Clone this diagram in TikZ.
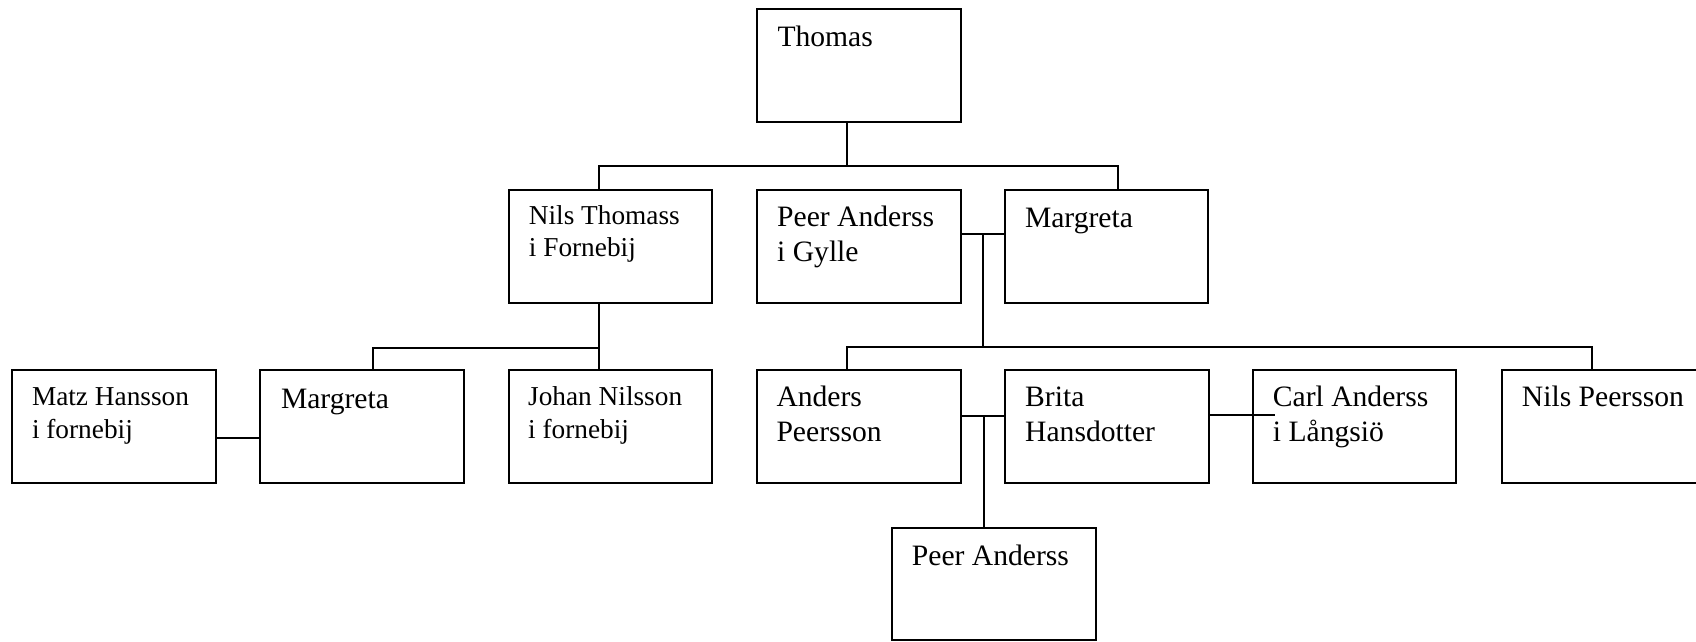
\documentclass[tikz,border=0pt]{standalone}
\usepackage{fontspec}
\setmainfont{Liberation Serif}
\usetikzlibrary{calc}
\tikzset{
  person/.style={draw, line width=2pt, rectangle, minimum width=203.5pt, minimum height=112.5pt, inner sep=0pt, outer sep=0pt, anchor=north west},
  big/.style={anchor=base west, inner sep=0pt, font=\fontsize{29.6}{35}\selectfont},
  small/.style={anchor=base west, inner sep=0pt, font=\fontsize{27.3}{32.4}\selectfont},
  link/.style={line width=2pt},
}
\newcommand\twoln[2]{\vtop{\hbox{#1}\hbox{#2}}}
\begin{document}
\begin{tikzpicture}[x=1pt,y=-1pt]
\useasboundingbox (0,0) rectangle (1696,641);
\clip (0,0) rectangle (1696,641);
\fill[white] (0,0) rectangle (1696,641);
% boxes
\node[person] (thomas) at (757.3,9.3) {};
\node[person] (nils)   at (508.7,190) {};
\node[person] (peer)   at (757,190) {};
\node[person] (marg2)  at (1004.8,190) {};
\node[person] (matz)   at (12.3,370) {};
\node[person] (marg3)  at (260.3,370) {};
\node[person] (johan)  at (508.5,370) {};
\node[person] (anders) at (757.3,370) {};
\node[person] (brita)  at (1005,370) {};
\node[person] (carl)   at (1252.7,370) {};
\node[person] (nilsp)  at (1501.7,370) {};
\node[person] (peerb)  at (892.3,527.7) {};
% texts
\node[big]   (tThomas) at ($(thomas.north west)+(20,37.4)$) {Thomas};
\node[small] (tNils)   at ($(nils.north west)+(20,34.3)$) {\twoln{Nils Thomass}{i Fornebij}};
\node[big]   (tPeer)   at ($(peer.north west)+(20,36.7)$) {\twoln{Peer Anderss}{i Gylle}};
\node[big]   (tMarg2)  at ($(marg2.north west)+(20,37.7)$) {Margreta};
\node[small] (tMatz)   at ($(matz.north west)+(19.5,35.7)$) {\twoln{Matz Hansson}{i fornebij}};
\node[big]   (tMarg3)  at ($(marg3.north west)+(20.5,38.3)$) {Margreta};
\node[small] (tJohan)  at ($(johan.north west)+(19.5,35.7)$) {\twoln{Johan Nilsson}{i fornebij}};
\node[big]   (tAnders) at ($(anders.north west)+(19,36.7)$) {\twoln{Anders}{Peersson}};
\node[big]   (tBrita)  at ($(brita.north west)+(20,36.7)$) {\twoln{Brita}{Hansdotter}};
\node[big]   (tCarl)   at ($(carl.north west)+(20,36.7)$) {\twoln{Carl Anderss}{i Långsiö}};
\node[big]   (tNilsp)  at ($(nilsp.north west)+(20,36.7)$) {Nils Peersson};
\node[big]   (tPeerb)  at ($(peerb.north west)+(19.4,37.3)$) {Peer Anderss};
% junction coordinates
\coordinate (j1) at ($(thomas.south west)+(90,44.3)$);
\coordinate (jPM) at ($(peer.north east)+(22.7,44)$);
\coordinate (j2) at ($(jPM)+(0,113.3)$);
\coordinate (jN) at ($(nils.south west)+(90.3,45)$);
\coordinate (jAB) at ($(anders.north east)+(23,46)$);
% connectors
\draw[link] ($(thomas.south west)+(90,0)$) -- (j1);
\draw[link] ($(nils.north west)+(90.3,0)$) |- (j1) -| ($(marg2.north west)+(113.5,0)$);
\draw[link] (peer.east |- jPM) -- (marg2.west |- jPM);
\draw[link] (jPM) -- (j2);
\draw[link] ($(anders.north west)+(90,0)$) |- (j2) -| ($(nilsp.north west)+(90.3,0)$);
\draw[link] ($(nils.south west)+(90.3,0)$) -- ($(johan.north west)+(90.5,0)$);
\draw[link] ($(marg3.north west)+(113,0)$) |- (jN);
\draw[link] ($(matz.east)+(0,12)$) -- ($(marg3.west)+(0,12)$);
\draw[link] (anders.east |- jAB) -- (brita.west |- jAB);
\draw[link] (jAB) -- (jAB |- peerb.north);
\draw[link] ($(brita.north east)+(0,45)$) -- ($(carl.north west)+(22.3,45)$);
\end{tikzpicture}
\end{document}
